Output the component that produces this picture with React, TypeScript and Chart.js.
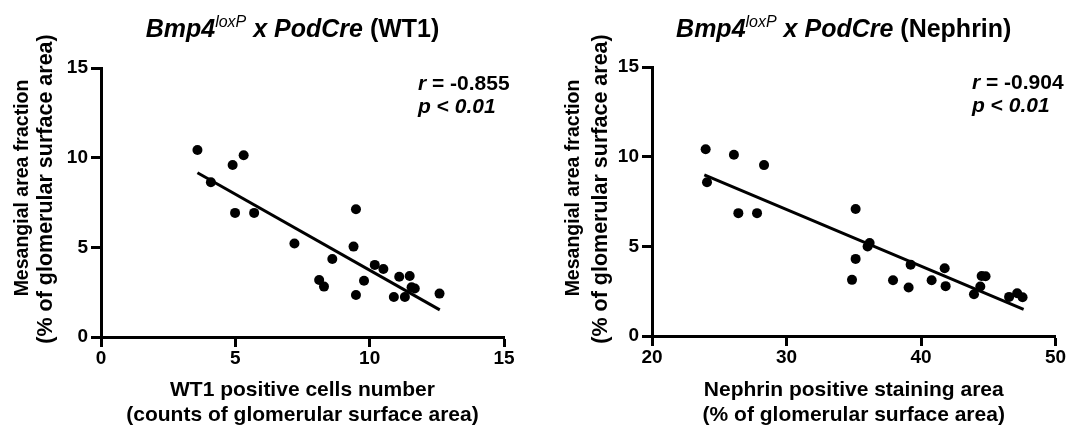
import React, { useEffect, useRef } from "react";
import { Chart, registerables } from "chart.js";

Chart.register(...registerables);

const FONT = '"Liberation Sans", Arial, Helvetica, sans-serif';

// WT1 panel
const wt1X = [3.59, 4.09, 4.9, 5.31, 4.99, 5.7, 7.2, 8.61, 8.12, 8.3, 9.49, 9.4, 9.49, 9.79, 10.19, 10.51, 10.9, 11.1, 11.31, 11.49, 11.56, 11.68, 12.6];
const wt1Y = [10.43, 8.63, 9.59, 10.13, 6.92, 6.92, 5.21, 4.35, 3.18, 2.81, 7.12, 5.04, 2.34, 3.14, 4.02, 3.79, 2.23, 3.36, 2.23, 3.4, 2.77, 2.7, 2.42];
const wt1FitX = [3.59, 12.61];
const wt1FitY = [9.16, 1.51];
const wt1Ticks = [0, 5, 10, 15];

// Nephrin panel
const nephX = [23.99, 24.09, 26.09, 26.42, 27.81, 28.33, 35.14, 35.14, 34.87, 36.03, 36.18, 37.92, 39.23, 39.08, 40.79, 41.76, 41.83, 43.94, 44.41, 44.51, 44.8, 46.55, 47.15, 47.55];
const nephY = [10.41, 8.57, 10.11, 6.85, 6.85, 9.53, 7.08, 4.3, 3.13, 4.99, 5.18, 3.11, 3.98, 2.7, 3.11, 3.78, 2.78, 2.33, 2.76, 3.35, 3.33, 2.18, 2.38, 2.16];
const nephFitX = [23.89, 47.63];
const nephFitY = [8.98, 1.49];
const nephTicks = [20, 30, 40, 50];

const yTicks = [0, 5, 10, 15];

const yTitle = ["Mesangial area fraction", "(% of glomerular surface area)"];
const wt1XTitle = ["WT1 positive cells number", "(counts of glomerular surface area)"];
const nephXTitle = ["Nephrin positive staining area", "(% of glomerular surface area)"];

type Part = { t: string; i?: boolean; b?: boolean; s: number; rise?: number };

const figText = {
  id: "figText",
  afterDraw(chart: any, _args: any, o: any) {
    const ctx = chart.ctx as CanvasRenderingContext2D;
    const ca = chart.chartArea;
    ctx.save();
    ctx.fillStyle = "#000";
    ctx.textBaseline = "alphabetic";
    ctx.textAlign = "left";
    const fontOf = (p: Part) =>
      `${p.i ? "italic " : ""}${p.b === false ? "normal" : "bold"} ${p.s}px ${FONT}`;
    // title
    const parts: Part[] = o.title;
    let total = 0;
    const widths = parts.map((p) => {
      ctx.font = fontOf(p);
      const w = ctx.measureText(p.t).width;
      total += w;
      return w;
    });
    let x = (ca.left + ca.right) / 2 + o.titleShift - total / 2;
    parts.forEach((p, k) => {
      ctx.font = fontOf(p);
      ctx.fillText(p.t, x, o.titleBaseline - (p.rise || 0));
      x += widths[k];
    });
    // stats
    (o.stats as { dy: number; parts: Part[] }[]).forEach((line) => {
      let sx = ca.left + o.statX;
      line.parts.forEach((p) => {
        ctx.font = fontOf(p);
        ctx.fillText(p.t, sx, ca.top + line.dy);
        sx += ctx.measureText(p.t).width;
      });
    });
    // rotated y-axis title
    (o.yTitle as { t: string; s: number; x: number; y: number }[]).forEach((l) => {
      ctx.save();
      ctx.translate(l.x, l.y);
      ctx.rotate(-Math.PI / 2);
      ctx.textAlign = "center";
      ctx.textBaseline = "middle";
      ctx.font = `bold ${l.s}px ${FONT}`;
      ctx.fillText(l.t, 0, 0);
      ctx.restore();
    });
    ctx.restore();
  },
};

function makeConfig(c: any) {
  const tickFont = { family: FONT, size: 19, weight: "bold" as const };
  const titleFont = { family: FONT, size: 21, weight: "bold" as const };
  return {
    type: "scatter" as const,
    data: {
      datasets: [
        {
          type: "scatter" as const,
          data: c.xs.map((x: number, i: number) => ({ x, y: c.ys[i] })),
          backgroundColor: "#000",
          borderColor: "#000",
          borderWidth: 0,
          pointRadius: 5,
          pointHoverRadius: 5,
        },
        {
          type: "line" as const,
          data: c.fx.map((x: number, i: number) => ({ x, y: c.fy[i] })),
          borderColor: "#000",
          borderWidth: 3,
          pointRadius: 0,
          fill: false,
          showLine: true,
        },
      ],
    },
    options: {
      responsive: false,
      animation: false,
      events: [],
      layout: { padding: { left: 0, top: c.top, right: c.right, bottom: 0 } },
      plugins: {
        legend: { display: false },
        tooltip: { enabled: false },
        figText: c.text,
      },
      scales: {
        x: {
          type: "linear" as const,
          min: c.xTicks[0],
          max: c.xTicks[c.xTicks.length - 1],
          afterBuildTicks: (s: any) => {
            s.ticks = c.xTicks.map((v: number) => ({ value: v }));
          },
          afterFit: (s: any) => {
            s.height = c.xH;
          },
          grid: {
            display: true,
            drawOnChartArea: false,
            drawTicks: true,
            tickLength: 10,
            tickWidth: 3,
            tickColor: "#000",
          },
          border: { display: true, width: 3, color: "#000" },
          ticks: { color: "#000", font: tickFont, padding: 0, maxRotation: 0 },
          title: {
            display: true,
            text: c.xTitle,
            color: "#000",
            font: { ...titleFont, lineHeight: 1.19 },
            padding: { top: 0, bottom: 1.5 },
          },
        },
        y: {
          type: "linear" as const,
          min: 0,
          max: 15,
          afterBuildTicks: (s: any) => {
            s.ticks = yTicks.map((v: number) => ({ value: v }));
          },
          afterFit: (s: any) => {
            s.width = c.yW;
          },
          grid: {
            display: true,
            drawOnChartArea: false,
            drawTicks: true,
            tickLength: 10,
            tickWidth: 3,
            tickColor: "#000",
          },
          border: { display: true, width: 3, color: "#000" },
          ticks: { color: "#000", font: tickFont, padding: 3 },
          title: { display: false },
        },
      },
    },
    plugins: [figText],
  };
}

function Panel(props: { left: number; width: number; cfg: any }) {
  const ref = useRef<HTMLCanvasElement | null>(null);
  useEffect(() => {
    if (!ref.current) return;
    const chart = new Chart(ref.current, makeConfig(props.cfg) as any);
    return () => chart.destroy();
  }, []);
  return (
    <canvas
      ref={ref}
      width={props.width}
      height={429}
      style={{ position: "absolute", left: props.left, top: 0, width: props.width, height: 429 }}
    />
  );
}

const titleParts = (label: string): Part[] => [
  { t: "Bmp4", i: true, s: 25 },
  { t: "loxP", i: true, b: false, s: 16, rise: 10 },
  { t: " x PodCre", i: true, s: 25 },
  { t: ` (${label})`, s: 25 },
];

const statParts = (r: string) => [
  { dy: 22, parts: [{ t: "r", i: true, s: 21 }, { t: ` = ${r}`, s: 21 }] },
  { dy: 45, parts: [{ t: "p", i: true, s: 21 }, { t: " < ", s: 21 }, { t: "0.01", i: true, s: 21 }] },
];

const yTitleLines = (x1: number, x2: number) => [
  { t: yTitle[0], s: 19.5, x: x1, y: 188 },
  { t: yTitle[1], s: 21.5, x: x2, y: 189 },
];

export default function App() {
  useEffect(() => {
    document.body.style.margin = "0";
    document.body.style.background = "#fff";
  }, []);
  const leftCfg = {
    xs: wt1X,
    ys: wt1Y,
    fx: wt1FitX,
    fy: wt1FitY,
    xTicks: wt1Ticks,
    xTitle: wt1XTitle,
    top: 68,
    right: 31,
    xH: 92,
    yW: 101,
    text: {
      title: titleParts("WT1"),
      titleShift: -10,
      titleBaseline: 37,
      statX: 317,
      stats: statParts("-0.855"),
      yTitle: yTitleLines(22.5, 46),
    },
  };
  const rightCfg = {
    xs: nephX,
    ys: nephY,
    fx: nephFitX,
    fy: nephFitY,
    xTicks: nephTicks,
    xTitle: nephXTitle,
    top: 67,
    right: 15.5,
    xH: 93,
    yW: 117,
    text: {
      title: titleParts("Nephrin"),
      titleShift: -10,
      titleBaseline: 37,
      statX: 320,
      stats: statParts("-0.904"),
      yTitle: yTitleLines(39, 66),
    },
  };
  return (
    <div style={{ position: "absolute", left: 0, top: 0, width: 1071, height: 429, background: "#fff" }}>
      <Panel left={0} width={535} cfg={leftCfg} />
      <Panel left={535} width={536} cfg={rightCfg} />
    </div>
  );
}
